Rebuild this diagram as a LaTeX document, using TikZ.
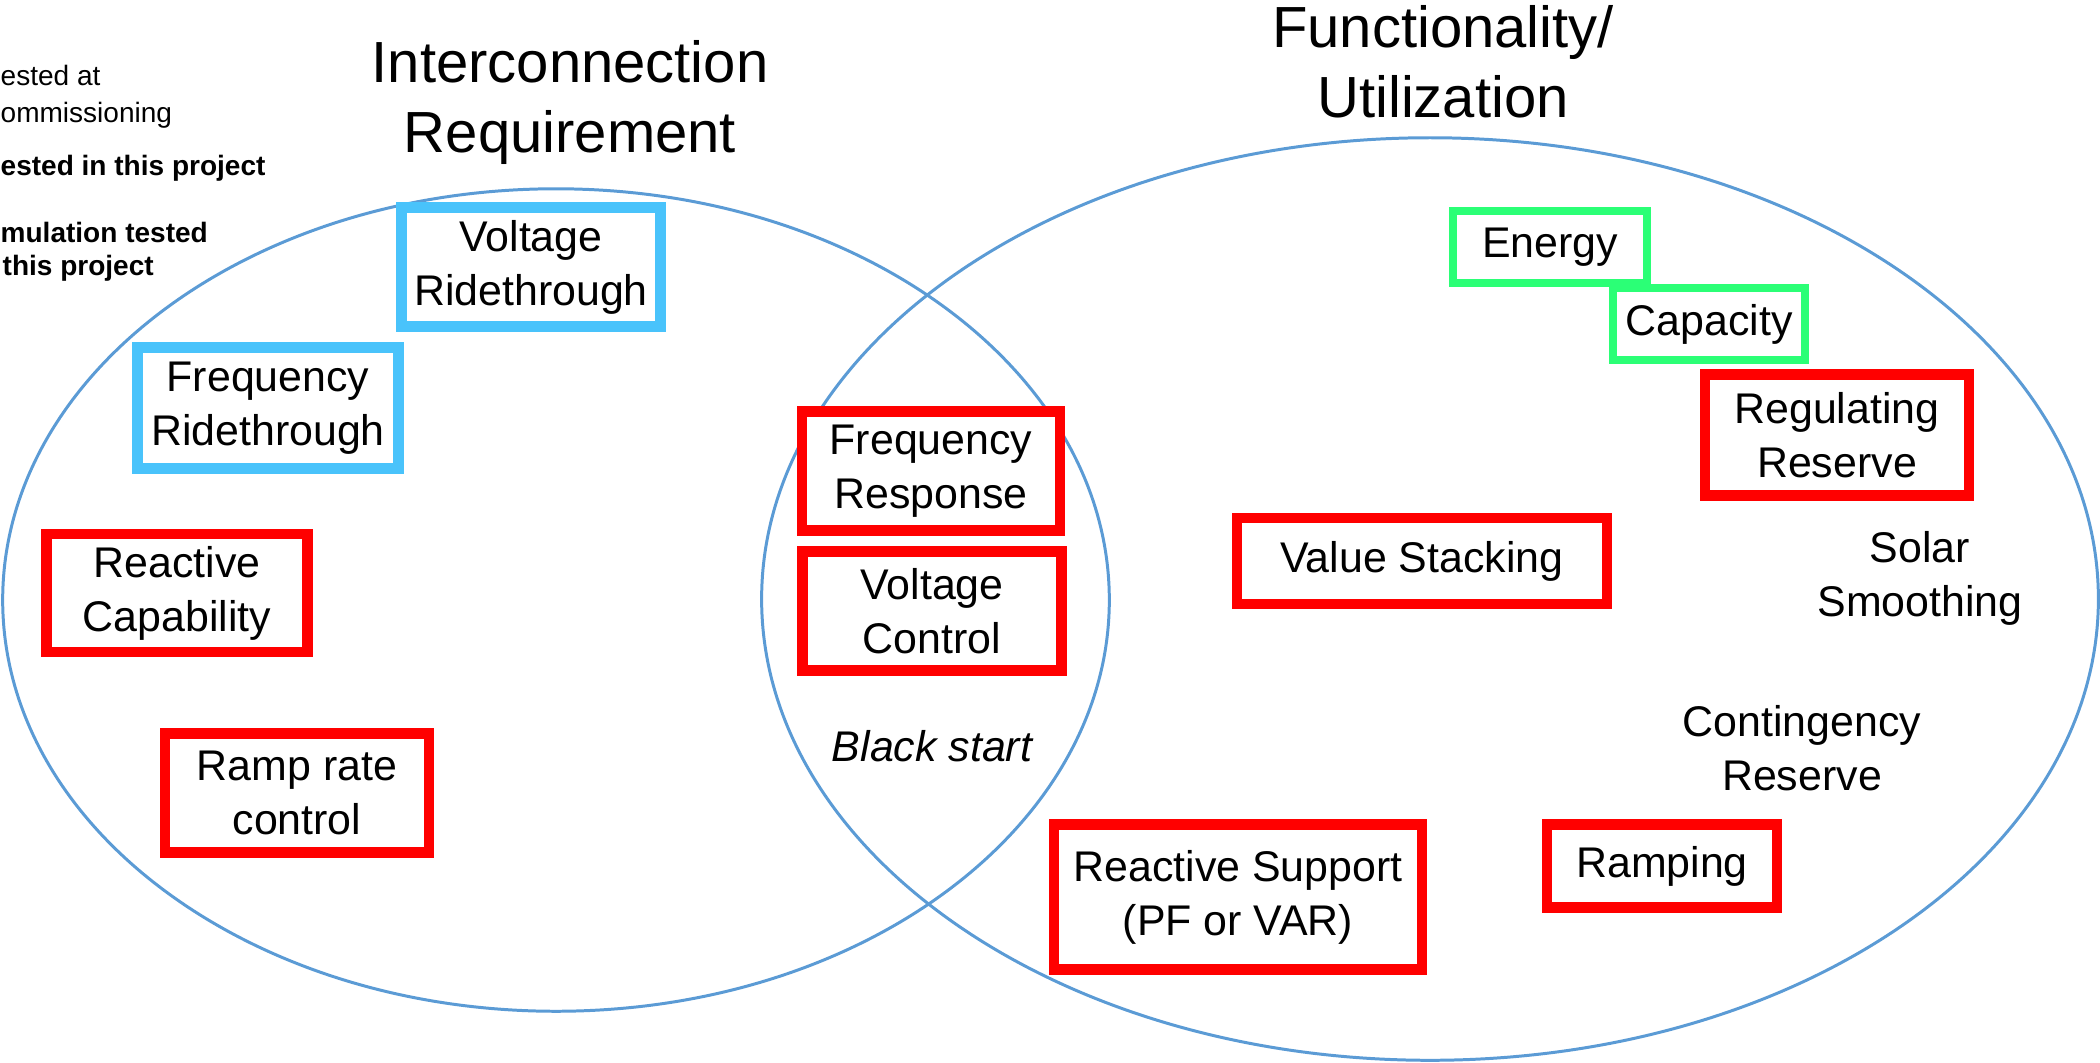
\documentclass[tikz,border=0pt]{standalone}
\usepackage{fontspec}
\setmainfont{Liberation Sans}
\definecolor{ellc}{HTML}{5B9BD5}
\definecolor{cyc}{HTML}{49C3FB}
\definecolor{redc}{HTML}{FF0000}
\definecolor{grc}{HTML}{2BFF76}
\newcommand\boxfont{\fontsize{12.2pt}{15.3pt}\selectfont}
\newcommand\titlefont{\fontsize{16.5pt}{19.9pt}\selectfont}
\newcommand\legfont{\fontsize{7.97pt}{10pt}\selectfont}
\tikzset{
  venn/.style={draw=ellc, line width=0.85pt},
  basebox/.style={draw, fill=white, inner sep=0pt, align=center, font=\boxfont, text=black},
  cybox/.style={basebox, draw=cyc, line width=2.9pt},
  redbox/.style={basebox, draw=redc, line width=2.9pt},
  grbox/.style={basebox, draw=grc, line width=2.2pt},
  plain/.style={inner sep=0pt, align=center, font=\boxfont, text=black},
  titletext/.style={inner sep=0pt, align=center, font=\titlefont, text=black},
  legtext/.style={inner sep=0pt, anchor=base west, font=\legfont, text=black}
}
\begin{document}
\begin{tikzpicture}[x=0.01cm, y=-0.01cm]
\useasboundingbox (0,0) rectangle (2100,1062);
\clip (0,0) rectangle (2100,1062);
% Venn ellipses
\draw[venn] (556,600) ellipse [x radius=5.53cm, y radius=4.11cm];
\draw[venn] (1430,599) ellipse [x radius=6.68cm, y radius=4.61cm];
% titles
\node[titletext] (t1) at (570,102) {Interconnection\\Requirement};
\node[titletext] (t2) at (1443,62) {Functionality/\\Utilization};
% legend (cut at left edge)
\node[legtext] (l1) at (0,85) {ested at};
\node[legtext] (l2) at (0,122) {ommissioning};
\node[legtext, font=\legfont\bfseries] (l3) at (0,175) {ested in this project};
\node[legtext, font=\legfont\bfseries] (l4) at (0,242) {mulation tested};
\node[legtext, font=\legfont\bfseries] (l5) at (2,275) {this project};
% left set
\node[cybox, minimum width=2.59cm, minimum height=1.19cm] (vr) at (531,267) {Voltage\\Ridethrough};
\node[cybox, minimum width=2.61cm, minimum height=1.21cm] (fr) at (268,408) {Frequency\\Ridethrough};
\node[redbox, minimum width=2.61cm, minimum height=1.18cm] (rc) at (177,593) {Reactive\\Capability};
\node[redbox, minimum width=2.64cm, minimum height=1.19cm] (rr) at (297,793) {Ramp rate\\control};
% intersection
\node[redbox, minimum width=2.58cm, minimum height=1.19cm] (fresp) at (931,471) {Frequency\\Response};
\node[redbox, minimum width=2.59cm, minimum height=1.19cm] (vc) at (932,611) {Voltage\\Control};
\node[plain, font=\boxfont\itshape] (bs) at (932,746) {Black start};
% right set
\node[grbox, minimum width=1.94cm, minimum height=0.72cm] (en) at (1550,247) {Energy};
\node[grbox, minimum width=1.92cm, minimum height=0.72cm] (cap) at (1709,324) {Capacity};
\node[redbox, minimum width=2.64cm, minimum height=1.21cm] (reg) at (1837,435) {Regulating\\Reserve};
\node[redbox, minimum width=3.70cm, minimum height=0.86cm] (vs) at (1422,561) {Value Stacking};
\node[plain] (ss) at (1920,578) {Solar\\Smoothing};
\node[plain] (cr) at (1802,748) {Contingency\\Reserve};
\node[redbox, minimum width=2.30cm, minimum height=0.83cm] (ramp) at (1662,866) {Ramping};
\node[redbox, minimum width=3.68cm, minimum height=1.45cm] (rs) at (1238,897) {Reactive Support\\(PF or VAR)};
\end{tikzpicture}
\end{document}
